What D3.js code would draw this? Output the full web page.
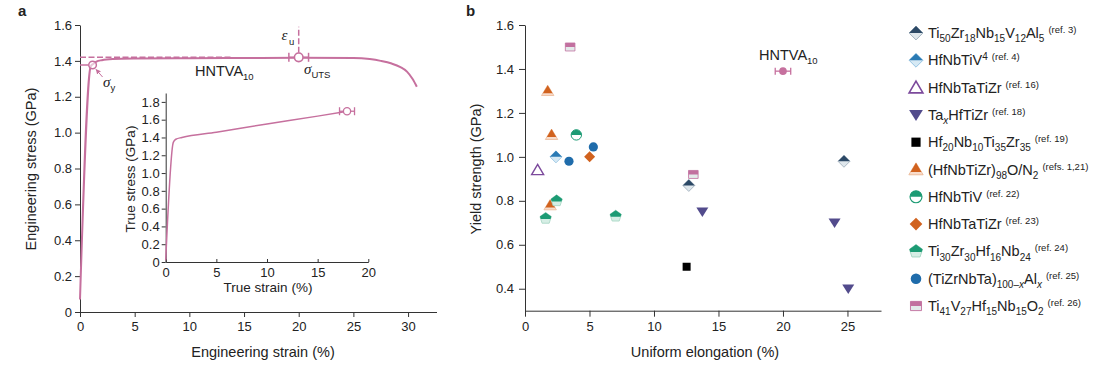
<!DOCTYPE html>
<html><head><meta charset="utf-8">
<script src="https://cdn.jsdelivr.net/npm/d3@7"></script>
<style>
body{margin:0;background:#fff}
svg{display:block}
text{font-family:"Liberation Sans",Arial,sans-serif;fill:#222}
</style>
</head><body>
<svg id="c" width="1105" height="369"></svg>
<script>
// ---------------- DATA ----------------
// Panel a: engineering stress–strain curve (HNTVA10)
const engStrain = [0, 0.98, 1.2, 1.5, 2, 3, 5, 10, 15, 20, 25, 26.5, 27.5, 28.5, 29.3, 29.9, 30.4, 30.8];
const engStress = [0.07, 1.37, 1.383, 1.396, 1.404, 1.41, 1.413, 1.415, 1.416, 1.417, 1.416, 1.41, 1.40, 1.385, 1.365, 1.34, 1.30, 1.256];
const yieldPoint = [1.15, 1.377];
const utsPoint = [20.0, 1.42];
const utsErr = 0.9;
const utsDashEnd = 13.9;     // strain where horizontal UTS dashed guide ends
const epsDashTop = 1.59;     // stress where vertical eps_u dashed guide ends
// Inset: true stress–strain
const trueStrain = [0, 0.75, 1.0, 1.6, 5, 10, 15, 17.9];
const trueStress = [0.02, 1.345, 1.38, 1.40, 1.46, 1.552, 1.64, 1.695];
const trueEnd = [17.9, 1.695];
const trueErr = 0.74;
// Ticks
const mainXTicks = [0, 5, 10, 15, 20, 25, 30];
const mainYTicks = [0, 0.2, 0.4, 0.6, 0.8, 1.0, 1.2, 1.4, 1.6];
const insetXTicks = [0, 5, 10, 15, 20];
const insetYTicks = [0, 0.2, 0.4, 0.6, 0.8, 1.0, 1.2, 1.4, 1.6, 1.8];
const bXTicks = [0, 5, 10, 15, 20, 25];
const bYTicks = [0.4, 0.6, 0.8, 1.0, 1.2, 1.4, 1.6];
// Panel b: yield strength vs uniform elongation
const alloyKeys = ["Ti50Zr18Nb15V12Al5", "HfNbTiV4", "HfNbTaTiZr16", "TaxHfTiZr", "Hf20Nb10Ti35Zr35",
  "HfNbTiZrON", "HfNbTiV22", "HfNbTaTiZr23", "Ti30Zr30Hf16Nb24", "TiZrNbTaAl", "Ti41V27Hf15Nb15O2"];
const alloyElong = [[12.7, 24.73], [2.4], [0.98], [13.75, 24.0, 25.06], [12.53], [1.76, 2.06, 1.95],
  [3.98], [5.01], [2.45, 1.60, 7.03], [5.30, 3.41], [3.5, 13.05]];
const alloyYield = [[0.87, 0.98], [1.00], [0.94], [0.75, 0.70, 0.40], [0.50], [1.30, 1.10, 0.78],
  [1.10], [1.00], [0.80, 0.72, 0.73], [1.045, 0.98], [1.50, 0.92]];
const hntva = [20.0, 1.39];
const hntvaErr = 0.6;
const legendLabels = [
  [["Ti"], ["50", "sub"], ["Zr"], ["18", "sub"], ["Nb"], ["15", "sub"], ["V"], ["12", "sub"], ["Al"], ["5", "sub"], ["(ref. 3)", "ref"]],
  [["HfNbTiV"], ["4", "sup"], ["(ref. 4)", "ref"]],
  [["HfNbTaTiZr"], ["(ref. 16)", "ref"]],
  [["Ta"], ["x", "subi"], ["HfTiZr"], ["(ref. 18)", "ref"]],
  [["Hf"], ["20", "sub"], ["Nb"], ["10", "sub"], ["Ti"], ["35", "sub"], ["Zr"], ["35", "sub"], ["(ref. 19)", "ref"]],
  [["(HfNbTiZr)"], ["98", "sub"], ["O/N"], ["2", "sub"], ["(refs. 1,21)", "ref"]],
  [["HfNbTiV"], ["(ref. 22)", "ref"]],
  [["HfNbTaTiZr"], ["(ref. 23)", "ref"]],
  [["Ti"], ["30", "sub"], ["Zr"], ["30", "sub"], ["Hf"], ["16", "sub"], ["Nb"], ["24", "sub"], ["(ref. 24)", "ref"]],
  [["(TiZrNbTa)"], ["100–", "sub"], ["x", "subi"], ["Al"], ["x", "subi"], ["(ref. 25)", "ref"]],
  [["Ti"], ["41", "sub"], ["V"], ["27", "sub"], ["Hf"], ["15", "sub"], ["Nb"], ["15", "sub"], ["O"], ["2", "sub"], ["(ref. 26)", "ref"]]
];

// ---------------- STYLE ----------------
const PINK = "#c6709e";
const AX = "#333";
const FONT = '"Liberation Sans", Arial, sans-serif';
const SERIF = '"Liberation Serif", "Times New Roman", serif';
const circ = r => `M${r},0A${r},${r} 0 1,1 ${-r},0A${r},${r} 0 1,1 ${r},0Z`;
const pent = (r => d3.range(5).map(k => {const a = -Math.PI/2 + k*2*Math.PI/5; return [r*Math.cos(a), r*Math.sin(a)];}))(6);
const pentD = "M" + pent.map(p => p[0].toFixed(2) + "," + p[1].toFixed(2)).join("L") + "Z";
const styles = [
  {d: "M0,-6L6,0L0,6L-6,0Z", top: "#2c4966", bottom: "#dfe7ec", stroke: "#9aabb9", split: 0},
  {d: "M0,-6L6,0L0,6L-6,0Z", top: "#2a7ab4", bottom: "#d6e9f4", stroke: "#8fc0e0", split: 0},
  {d: "M0,-5.6L6,4.6L-6,4.6Z", fill: "#fff", stroke: "#7c4a9c", sw: 1.4},
  {d: "M-6,-4.3L6,-4.3L0,5.2Z", fill: "#524b8c"},
  {d: "M-4,-4H4V4H-4Z", fill: "#000"},
  {d: "M0,-5.8L6.2,4.6L-6.2,4.6Z", top: "#d1621e", bottom: "#f8dccb", stroke: "#ebb895", split: 2.2},
  {d: circ(5.2), top: "#1c9b74", bottom: "#fff", stroke: "#1c9b74", split: 0, sw: 1},
  {d: "M0,-5.5L5.5,0L0,5.5L-5.5,0Z", fill: "#d1621e"},
  {d: pentD, top: "#1c9b74", bottom: "#d6eee5", stroke: "#a3d4c1", split: 0.6},
  {d: circ(4.6), fill: "#1f6cab"},
  {d: "M-4.8,-4H4.8V4H-4.8Z", top: "#c2709f", bottom: "#e3eaea", stroke: "#c2709f", split: 0, sw: 0.8}
];

const svg = d3.select("#c");
const defs = svg.append("defs");
styles.forEach((s, i) => {
  if (s.split !== undefined) {
    defs.append("clipPath").attr("id", "clip" + i)
      .append("rect").attr("x", -20).attr("y", -20).attr("width", 40).attr("height", 20 + s.split);
  }
});
function drawMarker(g, i) {
  const s = styles[i];
  if (s.split !== undefined) {
    g.append("path").attr("d", s.d).attr("fill", s.bottom).attr("stroke", s.stroke).attr("stroke-width", s.sw || 0.8);
    g.append("path").attr("d", s.d).attr("fill", s.top).attr("clip-path", `url(#clip${i})`);
  } else {
    g.append("path").attr("d", s.d).attr("fill", s.fill).attr("stroke", s.stroke || "none").attr("stroke-width", s.sw || 1);
  }
}
function styleAxis(g, fs) {
  g.attr("font-family", FONT).attr("font-size", fs).attr("color", "#222");
  g.select(".domain").attr("stroke", AX).attr("stroke-width", 1);
  g.selectAll(".tick line").attr("stroke", AX);
}
const fmt = d => d === 0 ? "0" : d3.format(".1f")(d);
function errBar(g, x, y, lo, hi, cap) {
  g.append("line").attr("x1", x(lo)).attr("x2", x(hi)).attr("y1", y).attr("y2", y);
  g.append("line").attr("x1", x(lo)).attr("x2", x(lo)).attr("y1", y - cap).attr("y2", y + cap);
  g.append("line").attr("x1", x(hi)).attr("x2", x(hi)).attr("y1", y - cap).attr("y2", y + cap);
}

// ---------------- PANEL A ----------------
const xA = d3.scaleLinear().domain([0, 32.6]).range([80, 436.5]);
const yA = d3.scaleLinear().domain([0, 1.6]).range([312, 25]);
const gA = svg.append("g");
gA.append("g").attr("transform", `translate(0,${yA(0)})`)
  .call(d3.axisBottom(xA).tickValues(mainXTicks).tickSize(5).tickPadding(5).tickSizeOuter(0))
  .call(g => styleAxis(g, 13));
gA.append("g").attr("transform", `translate(${xA(0)},0)`)
  .call(d3.axisLeft(yA).tickValues(mainYTicks).tickFormat(fmt).tickSize(5).tickPadding(3).tickSizeOuter(0))
  .call(g => styleAxis(g, 13));
gA.append("text").attr("x", 263).attr("y", 357).attr("text-anchor", "middle").attr("font-size", 14.5).text("Engineering strain (%)");
gA.append("text").attr("transform", "translate(35.5,169) rotate(-90)").attr("text-anchor", "middle").attr("font-size", 14.5).text("Engineering stress (GPa)");
svg.append("text").attr("x", 18).attr("y", 16).attr("font-weight", "bold").attr("font-size", 15).text("a");

// guides
gA.append("line").attr("x1", xA(0)).attr("x2", xA(utsDashEnd)).attr("y1", yA(utsPoint[1])).attr("y2", yA(utsPoint[1]))
  .attr("stroke", PINK).attr("stroke-width", 1.5).attr("stroke-dasharray", "6,2.5");
gA.append("line").attr("x1", xA(utsPoint[0])).attr("x2", xA(utsPoint[0])).attr("y1", yA(utsPoint[1]) - 4.5).attr("y2", yA(epsDashTop))
  .attr("stroke", PINK).attr("stroke-width", 1.5).attr("stroke-dasharray", "6,2.5");
gA.append("line").attr("x1", xA(0)).attr("x2", xA(yieldPoint[0]) - 4).attr("y1", yA(yieldPoint[1])).attr("y2", yA(yieldPoint[1]))
  .attr("stroke", PINK).attr("stroke-width", 1.5);
// curve
gA.append("path").datum(d3.zip(engStrain, engStress))
  .attr("d", d3.line().x(d => xA(d[0])).y(d => yA(d[1])).curve(d3.curveMonotoneX))
  .attr("fill", "none").attr("stroke", PINK).attr("stroke-width", 2);
// yield circle
gA.append("circle").attr("cx", xA(yieldPoint[0])).attr("cy", yA(yieldPoint[1])).attr("r", 3.8)
  .attr("fill", "#fff").attr("fill-opacity", 0.6).attr("stroke", PINK).attr("stroke-width", 1.5);
// UTS circle + error bar
const eb = gA.append("g").attr("stroke", PINK).attr("stroke-width", 1.5);
errBar(eb, xA, yA(utsPoint[1]), utsPoint[0] - utsErr, utsPoint[0] + utsErr, 4.5);
gA.append("circle").attr("cx", xA(utsPoint[0])).attr("cy", yA(utsPoint[1])).attr("r", 4.3)
  .attr("fill", "#fff").attr("stroke", PINK).attr("stroke-width", 1.6);
// arrow to yield
defs.append("marker").attr("id", "arr").attr("viewBox", "0 0 10 10").attr("refX", 9).attr("refY", 5)
  .attr("markerWidth", 5).attr("markerHeight", 5).attr("orient", "auto")
  .append("path").attr("d", "M0,0L10,5L0,10Z").attr("fill", PINK);
gA.append("line").attr("x1", xA(yieldPoint[0]) + 10).attr("y1", yA(yieldPoint[1]) + 12)
  .attr("x2", xA(yieldPoint[0]) + 3.5).attr("y2", yA(yieldPoint[1]) + 4.5)
  .attr("stroke", PINK).attr("stroke-width", 1).attr("marker-end", "url(#arr)");
// annotations
const ty = gA.append("text").attr("x", 103).attr("y", 86.5);
ty.append("tspan").attr("font-family", SERIF).attr("font-style", "italic").attr("font-size", 15).text("σ");
ty.append("tspan").attr("font-size", 9.5).attr("dy", 4).text("y");
const tu = gA.append("text").attr("x", 304).attr("y", 73.5);
tu.append("tspan").attr("font-family", SERIF).attr("font-style", "italic").attr("font-size", 15).text("σ");
tu.append("tspan").attr("font-size", 9.5).attr("dy", 4).text("UTS");
const te = gA.append("text").attr("x", 281.5).attr("y", 40);
te.append("tspan").attr("font-family", SERIF).attr("font-style", "italic").attr("font-size", 15).text("ε");
te.append("tspan").attr("font-size", 9.5).attr("dy", 5).attr("dx", 1.5).text("u");
const th = gA.append("text").attr("x", 195).attr("y", 75.5).attr("font-size", 14.5);
th.append("tspan").text("HNTVA");
th.append("tspan").attr("font-size", 9.5).attr("dy", 4).text("10");

// inset
const xI = d3.scaleLinear().domain([0, 20]).range([165.7, 368.3]);
const yI = d3.scaleLinear().domain([0, 1.9]).range([262, 93]);
gA.append("g").attr("transform", `translate(0,${yI(0)})`)
  .call(d3.axisBottom(xI).tickValues(insetXTicks).tickSize(-3).tickPadding(6).tickSizeOuter(0))
  .call(g => styleAxis(g, 13));
gA.append("g").attr("transform", `translate(${xI(0)},0)`)
  .call(d3.axisLeft(yI).tickValues(insetYTicks).tickFormat(fmt).tickSize(4).tickPadding(2).tickSizeOuter(0))
  .call(g => styleAxis(g, 13));
gA.append("text").attr("x", 268).attr("y", 291.5).attr("text-anchor", "middle").attr("font-size", 13.5).text("True strain (%)");
gA.append("text").attr("transform", "translate(134.5,179) rotate(-90)").attr("text-anchor", "middle").attr("font-size", 13.5).text("True stress (GPa)");
gA.append("path").datum(d3.zip(trueStrain, trueStress))
  .attr("d", d3.line().x(d => xI(d[0])).y(d => yI(d[1])).curve(d3.curveMonotoneX))
  .attr("fill", "none").attr("stroke", PINK).attr("stroke-width", 1.5);
const ebi = gA.append("g").attr("stroke", PINK).attr("stroke-width", 1.3);
errBar(ebi, xI, yI(trueEnd[1]), trueEnd[0] - trueErr, trueEnd[0] + trueErr, 4);
gA.append("circle").attr("cx", xI(trueEnd[0])).attr("cy", yI(trueEnd[1])).attr("r", 3.6)
  .attr("fill", "#fff").attr("stroke", PINK).attr("stroke-width", 1.3);

// ---------------- PANEL B ----------------
const xB = d3.scaleLinear().domain([0, 27.6]).range([525, 881]);
const yB = d3.scaleLinear().domain([0.3, 1.6]).range([310.7, 25]);
const gB = svg.append("g");
gB.append("g").attr("transform", `translate(0,${yB(0.3)})`)
  .call(d3.axisBottom(xB).tickValues(bXTicks).tickSize(6).tickPadding(5).tickSizeOuter(0))
  .call(g => styleAxis(g, 13));
gB.append("g").attr("transform", `translate(${xB(0)},0)`)
  .call(d3.axisLeft(yB).tickValues(bYTicks).tickFormat(fmt).tickSize(6).tickPadding(5).tickSizeOuter(0))
  .call(g => styleAxis(g, 13));
gB.append("text").attr("x", 705).attr("y", 357).attr("text-anchor", "middle").attr("font-size", 14.5).text("Uniform elongation (%)");
gB.append("text").attr("transform", "translate(481,169) rotate(-90)").attr("text-anchor", "middle").attr("font-size", 14.5).text("Yield strength (GPa)");
svg.append("text").attr("x", 466).attr("y", 16).attr("font-weight", "bold").attr("font-size", 15).text("b");

alloyKeys.forEach((k, i) => {
  alloyElong[i].forEach((e, j) => {
    const g = gB.append("g").attr("transform", `translate(${xB(e)},${yB(alloyYield[i][j])})`);
    drawMarker(g, i);
  });
});
// HNTVA10 point
const ebb = gB.append("g").attr("stroke", PINK).attr("stroke-width", 1.3);
errBar(ebb, xB, yB(hntva[1]), hntva[0] - hntvaErr, hntva[0] + hntvaErr, 3.5);
gB.append("circle").attr("cx", xB(hntva[0])).attr("cy", yB(hntva[1])).attr("r", 3.8).attr("fill", PINK);
const tb = gB.append("text").attr("x", 759).attr("y", 60).attr("font-size", 14.5);
tb.append("tspan").text("HNTVA");
tb.append("tspan").attr("font-size", 9.5).attr("dy", 4).text("10");

// ---------------- LEGEND ----------------
const yL = d3.scalePoint().domain(alloyKeys).range([33, 306]);
const offs = {n: 0, sub: 4.2, subi: 4.2, sup: -5, ref: -5};
alloyKeys.forEach((k, i) => {
  const y = yL(k);
  const g = svg.append("g").attr("transform", `translate(916,${y}) scale(1.15)`);
  drawMarker(g, i);
  const t = svg.append("text").attr("x", 928).attr("y", y + 5).attr("font-size", 14.5);
  let cur = 0;
  legendLabels[i].forEach(([s, type]) => {
    type = type || "n";
    const target = offs[type];
    const ts = t.append("tspan").attr("dy", target - cur).text(s);
    cur = target;
    if (type !== "n") ts.attr("font-size", type === "ref" ? 9.5 : 10);
    if (type === "subi") ts.attr("font-style", "italic");
    if (type === "ref") ts.attr("dx", 4);
  });
});
</script>
</body></html>
